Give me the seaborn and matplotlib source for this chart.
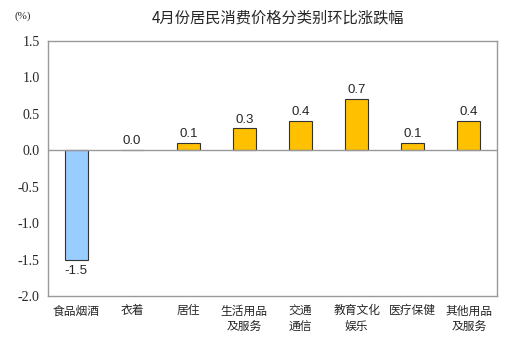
import matplotlib
matplotlib.use("Agg")
import matplotlib.pyplot as plt
import seaborn as sns
import pandas as pd
from matplotlib.font_manager import FontProperties

categories = ["食品烟酒", "衣着", "居住", "生活用品\n及服务", "交通\n通信", "教育文化\n娱乐", "医疗保健", "其他用品\n及服务"]
values = [-1.5, 0.0, 0.1, 0.3, 0.4, 0.7, 0.1, 0.4]
yticks = [1.5, 1.0, 0.5, 0.0, -0.5, -1.0, -1.5, -2.0]
title = "4月份居民消费价格分类别环比涨跌幅"

sns.set_theme(style="white")
plt.rcParams['font.family'] = ['Noto Sans CJK SC', 'DejaVu Sans']

df = pd.DataFrame({"cat": categories, "val": values})
colors = ["#99CCFF" if v < 0 else "#FFC000" for v in values]

fig = plt.figure(figsize=(5.07, 3.44), dpi=100)
ax = fig.add_axes([0.0947, 0.1395, 0.8853, 0.7413])
sns.barplot(data=df, x="cat", y="val", hue="cat", palette=colors, legend=False,
            saturation=1, width=0.41, edgecolor="#333333", linewidth=0.8, ax=ax)

serif = FontProperties(family=["Liberation Serif", "DejaVu Serif"], size=10)
ax.set_ylim(-2.0, 1.5)
ax.set_xlim(-0.5, len(categories) - 0.5)
ax.set_yticks(yticks)
ax.set_yticklabels([f"{t:.1f}" for t in yticks], fontproperties=serif)
ax.set_xticks(range(len(categories)))
ax.set_xticklabels(categories, fontsize=8.5, linespacing=1.3)
ax.tick_params(axis="y", direction="in", length=3, color="#999999", pad=6)
ax.tick_params(axis="x", length=0, pad=6)
ax.set_xlabel("")
ax.set_ylabel("")
for s in ax.spines.values():
    s.set_color("#999999")
    s.set_linewidth(1.0)
ax.axhline(0, color="#999999", lw=1.0, zorder=1)

for i, v in enumerate(values):
    if v < 0:
        ax.text(i, v - 0.07, f"{v:.1f}", ha="center", va="top", fontsize=9.5, family="Liberation Sans")
    else:
        ax.text(i, v + 0.04, f"{v:.1f}", ha="center", va="bottom", fontsize=9.5, family="Liberation Sans")

fig.canvas.draw()
for lbl in ax.get_yticklabels():
    lbl.set_fontproperties(serif)

fig.text(0.548, 0.948, title, ha="center", va="center", fontsize=11)
fig.text(0.044, 0.952, "(%)", ha="center", va="center",
         fontproperties=FontProperties(family=["Liberation Serif", "DejaVu Serif"], size=8))

fig.savefig("out.png", dpi=100)
